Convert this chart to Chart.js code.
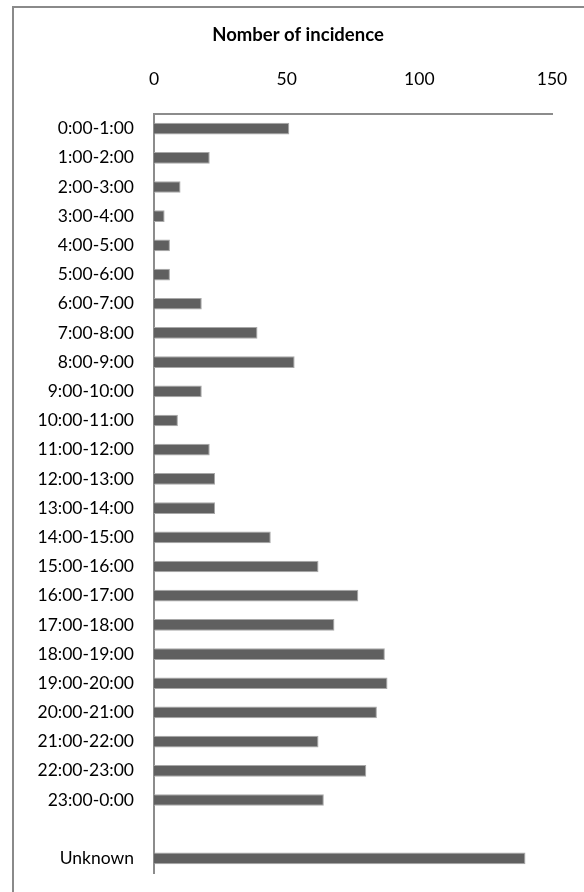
<!DOCTYPE html>
<html>
<head>
<meta charset="utf-8">
<script src="https://cdn.jsdelivr.net/npm/chart.js@4/dist/chart.umd.min.js"></script>
<style>
  html, body { margin: 0; padding: 0; background: #ffffff; }
  #wrap { width: 584px; height: 892px; }
</style>
</head>
<body>
<div id="wrap"><canvas id="c" width="584" height="892"></canvas></div>
<script>
// Incidents by hour of day
const hourLabels = [
  '0:00-1:00', '1:00-2:00', '2:00-3:00', '3:00-4:00', '4:00-5:00', '5:00-6:00',
  '6:00-7:00', '7:00-8:00', '8:00-9:00', '9:00-10:00', '10:00-11:00', '11:00-12:00',
  '12:00-13:00', '13:00-14:00', '14:00-15:00', '15:00-16:00', '16:00-17:00', '17:00-18:00',
  '18:00-19:00', '19:00-20:00', '20:00-21:00', '21:00-22:00', '22:00-23:00', '23:00-0:00',
  '', 'Unknown'
];
const incidenceCounts = [
  51, 21, 10, 4, 6, 6,
  18, 39, 53, 18, 9, 21,
  23, 23, 44, 62, 77, 68,
  87, 88, 84, 62, 80, 64,
  null, 140
];
const axisTicks = [0, 50, 100, 150];
const chartTitle = 'Nomber of incidence';

const FONT = 'Lato, "Open Sans", sans-serif';
const AXIS_GREY = '#8c8c8c';

// Outer frame and the heading text
const framePlugin = {
  id: 'frame',
  beforeDraw(chart) {
    const ctx = chart.ctx;
    ctx.save();
    ctx.fillStyle = '#ffffff';
    ctx.fillRect(0, 0, chart.width, chart.height);
    ctx.strokeStyle = '#8a8a8a';
    ctx.lineWidth = 2;
    ctx.strokeRect(13, 7, 700, 1000);
    ctx.restore();
  },
  afterDraw(chart) {
    const ctx = chart.ctx;
    ctx.save();
    ctx.fillStyle = '#000000';
    ctx.font = 'bold 18.5px ' + FONT;
    ctx.textAlign = 'center';
    ctx.textBaseline = 'alphabetic';
    ctx.fillText(chartTitle, 298, 40.5);
    ctx.restore();
  }
};

new Chart(document.getElementById('c'), {
  type: 'bar',
  data: {
    labels: hourLabels,
    datasets: [{
      data: incidenceCounts,
      backgroundColor: '#606060',
      borderColor: '#a8a8a8',
      borderWidth: 1,
      borderSkipped: 'start',
      categoryPercentage: 1.0,
      barPercentage: 0.4
    }]
  },
  options: {
    indexAxis: 'y',
    responsive: false,
    animation: false,
    devicePixelRatio: 1,
    layout: { padding: { left: 0, top: 0, right: 32, bottom: 19 } },
    plugins: {
      legend: { display: false },
      title: { display: false },
      tooltip: { enabled: false }
    },
    scales: {
      x: {
        position: 'top',
        min: 0,
        max: 150,
        afterBuildTicks(scale) {
          scale.ticks = axisTicks.map(v => ({ value: v }));
        },
        afterFit(scale) {
          scale.height = 114;
          scale.paddingLeft = 0;
          scale.paddingRight = 0;
        },
        grid: { display: false, drawTicks: false },
        border: { display: true, color: AXIS_GREY, width: 2 },
        ticks: {
          color: '#000000',
          font: { family: FONT, size: 17.5 },
          padding: 24,
          maxRotation: 0
        }
      },
      y: {
        afterFit(scale) {
          scale.width = 154;
          scale.paddingTop = 0;
          scale.paddingBottom = 0;
        },
        grid: { display: false, drawTicks: false },
        border: { display: true, color: AXIS_GREY, width: 2 },
        ticks: {
          color: '#000000',
          font: { family: FONT, size: 17.5 },
          padding: 20,
          autoSkip: false
        }
      }
    }
  },
  plugins: [framePlugin]
});
</script>
</body>
</html>
